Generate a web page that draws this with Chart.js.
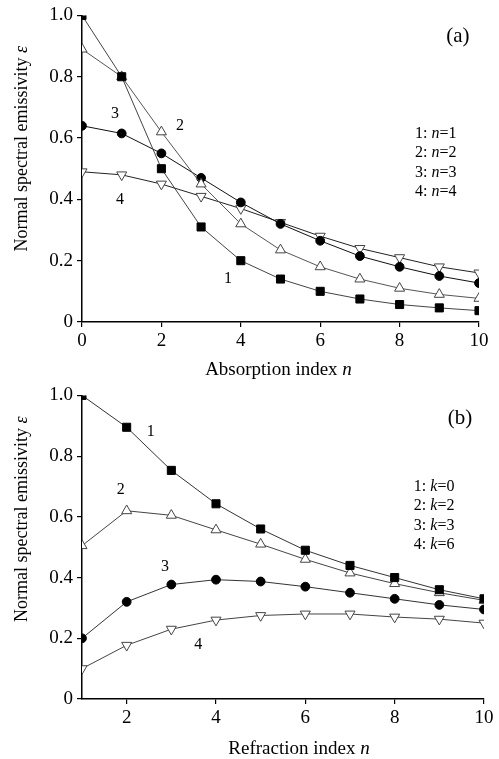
<!DOCTYPE html>
<html>
<head>
<meta charset="utf-8">
<script src="https://cdn.jsdelivr.net/npm/chart.js@4.4.0/dist/chart.umd.min.js"></script>
<style>
  html, body { margin: 0; padding: 0; background: #fff; }
  #boxA { position: absolute; left: 0; top: 0; }
  #boxB { position: absolute; left: 0; top: 380px; }
</style>
</head>
<body>
<div id="boxA"><canvas id="chartA" width="499" height="380"></canvas></div>
<div id="boxB"><canvas id="chartB" width="499" height="379"></canvas></div>
<script>
// panel (a): emissivity vs absorption index, one curve per refraction index n
const xA = [0, 1, 2, 3, 4, 5, 6, 7, 8, 9, 10];
const a_n1 = [1.0, 0.80, 0.50, 0.31, 0.20, 0.14, 0.10, 0.075, 0.057, 0.046, 0.037];
const a_n2 = [0.89, 0.80, 0.62, 0.45, 0.32, 0.235, 0.18, 0.14, 0.11, 0.09, 0.077];
const a_n3 = [0.64, 0.615, 0.55, 0.47, 0.39, 0.32, 0.265, 0.215, 0.18, 0.15, 0.127];
const a_n4 = [0.49, 0.48, 0.45, 0.41, 0.37, 0.325, 0.28, 0.24, 0.21, 0.18, 0.16];

// panel (b): emissivity vs refraction index, one curve per absorption index k
const xB = [1, 2, 3, 4, 5, 6, 7, 8, 9, 10];
const b_k0 = [1.0, 0.895, 0.753, 0.643, 0.56, 0.49, 0.44, 0.40, 0.36, 0.33];
const b_k2 = [0.505, 0.62, 0.605, 0.557, 0.51, 0.46, 0.415, 0.38, 0.35, 0.325];
const b_k3 = [0.20, 0.32, 0.377, 0.393, 0.387, 0.37, 0.35, 0.33, 0.31, 0.295];
const b_k6 = [0.10, 0.177, 0.23, 0.26, 0.275, 0.28, 0.28, 0.27, 0.263, 0.25];

const xTicksA = [0, 2, 4, 6, 8, 10];
const xTicksB = [2, 4, 6, 8, 10];
const yTicks = [0, 0.2, 0.4, 0.6, 0.8, 1.0];

const curveNames = ['1', '2', '3', '4'];
const legendValsA = [1, 2, 3, 4];
const legendValsB = [0, 2, 3, 6];

const SERIF = '"Liberation Serif", "DejaVu Serif", serif';

function pts(xs, ys) {
  return xs.map((x, i) => ({ x: x, y: ys[i] }));
}

function seriesStyle(kind, lineColor) {
  const base = {
    borderColor: lineColor,
    borderWidth: 1,
    tension: 0,
    pointBorderWidth: 1,
    pointHoverRadius: 0,
    clip: 0
  };
  if (kind === 'square') {
    return Object.assign(base, { pointStyle: 'rect', pointRadius: 5.7,
      pointBackgroundColor: '#000', pointBorderColor: '#000' });
  }
  if (kind === 'circle') {
    return Object.assign(base, { pointStyle: 'circle', pointRadius: 4.4,
      pointBackgroundColor: '#000', pointBorderColor: '#000' });
  }
  if (kind === 'up') {
    return Object.assign(base, { pointStyle: 'triangle', pointRadius: 5.8,
      pointBackgroundColor: '#fff', pointBorderColor: '#444' });
  }
  return Object.assign(base, { pointStyle: 'triangle', pointRotation: 180, pointRadius: 5.8,
    pointBackgroundColor: '#fff', pointBorderColor: '#444' });
}

// draw a line of text made of upright and italic pieces
function richText(ctx, parts, x, y, size, align) {
  let total = 0;
  parts.forEach(p => {
    ctx.font = (p.it ? 'italic ' : '') + size + 'px ' + SERIF;
    total += ctx.measureText(p.t).width;
  });
  let cx = align === 'center' ? x - total / 2 : x;
  ctx.textAlign = 'left';
  ctx.textBaseline = 'middle';
  parts.forEach(p => {
    ctx.font = (p.it ? 'italic ' : '') + size + 'px ' + SERIF;
    ctx.fillText(p.t, cx, y);
    cx += ctx.measureText(p.t).width;
  });
}

function notesPlugin(cfg) {
  return {
    id: 'notes',
    afterDraw(chart) {
      const ctx = chart.ctx;
      const xs = chart.scales.x, ys = chart.scales.y;
      const area = chart.chartArea;
      ctx.save();
      ctx.fillStyle = '#000';
      // curve numbers
      cfg.labels.forEach((l, i) => {
        richText(ctx, [{ t: curveNames[i] }], xs.getPixelForValue(l[0]), ys.getPixelForValue(l[1]), 16, 'center');
      });
      // panel tag
      richText(ctx, [{ t: cfg.tag[0] }], xs.getPixelForValue(cfg.tag[1]), ys.getPixelForValue(cfg.tag[2]), 21, 'center');
      // key
      cfg.keyVals.forEach((v, i) => {
        richText(ctx, [{ t: (i + 1) + ': ' }, { t: cfg.keyVar, it: true }, { t: '=' + v }],
          xs.getPixelForValue(cfg.keyX), ys.getPixelForValue(cfg.keyY[i]), 16, 'left');
      });
      // x title
      richText(ctx, [{ t: cfg.xTitle + ' ' }, { t: 'n', it: true }],
        (area.left + area.right) / 2 + cfg.xTitleDx, area.bottom + cfg.xTitleDy, 19, 'center');
      // y title, rotated
      ctx.translate(cfg.yTitleX, (area.top + area.bottom) / 2 + cfg.yTitleDy);
      ctx.rotate(-Math.PI / 2);
      richText(ctx, [{ t: 'Normal spectral emissivity ' }, { t: '\u03B5', it: true }], 0, 0, 18, 'center');
      ctx.restore();
    }
  };
}

function axes(xMin, xMax, xTicks, xHeight) {
  const tickFont = { family: SERIF, size: 19 };
  return {
    x: {
      type: 'linear', min: xMin, max: xMax,
      afterBuildTicks: s => { s.ticks = xTicks.map(v => ({ value: v })); },
      afterFit: s => { s.height = xHeight; },
      ticks: { color: '#000', font: tickFont, padding: 3, maxRotation: 0, autoSkip: false,
        callback: v => String(v) },
      grid: { drawOnChartArea: false, tickLength: 5, color: '#000', lineWidth: 1.2 },
      border: { color: '#000', width: 1.5 }
    },
    y: {
      min: 0, max: 1,
      afterBuildTicks: s => { s.ticks = yTicks.map(v => ({ value: v })); },
      afterFit: s => { s.width = 82; },
      ticks: { color: '#000', font: tickFont, padding: 4, autoSkip: false,
        callback: v => (v === 0 ? '0' : v.toFixed(1)) },
      grid: { drawOnChartArea: false, tickLength: 5, color: '#000', lineWidth: 1.2 },
      border: { color: '#000', width: 1.5 }
    }
  };
}

window.onload = function () {
  const ctxA = document.getElementById('chartA');
  const ctxB = document.getElementById('chartB');

  const chartA = new Chart(ctxA, {
    type: 'line',
    data: {
      datasets: [
        Object.assign({ label: 'n=1', data: pts(xA, a_n1) }, seriesStyle('square', '#444')),
        Object.assign({ label: 'n=2', data: pts(xA, a_n2) }, seriesStyle('up', '#555')),
        Object.assign({ label: 'n=3', data: pts(xA, a_n3) }, seriesStyle('circle', '#111')),
        Object.assign({ label: 'n=4', data: pts(xA, a_n4) }, seriesStyle('down', '#222'))
      ]
    },
    options: {
      responsive: false,
      animation: false,
      layout: { padding: { top: 14, right: 20, left: 0, bottom: 0 } },
      plugins: { legend: { display: false }, tooltip: { enabled: false } },
      scales: axes(0, 10, xTicksA, 58)
    },
    plugins: [notesPlugin({
      labels: [[3.68, 0.14], [2.47, 0.64], [0.83, 0.68], [0.96, 0.40]],
      tag: ['(a)', 9.47, 0.93],
      keyVar: 'n', keyVals: legendValsA, keyX: 8.39, keyY: [0.614, 0.552, 0.487, 0.425],
      xTitle: 'Absorption index', xTitleDx: -2, xTitleDy: 48,
      yTitleX: 22, yTitleDy: -20
    })]
  });

  const chartB = new Chart(ctxB, {
    type: 'line',
    data: {
      datasets: [
        Object.assign({ label: 'k=0', data: pts(xB, b_k0) }, seriesStyle('square', '#333')),
        Object.assign({ label: 'k=2', data: pts(xB, b_k2) }, seriesStyle('up', '#444')),
        Object.assign({ label: 'k=3', data: pts(xB, b_k3) }, seriesStyle('circle', '#333')),
        Object.assign({ label: 'k=6', data: pts(xB, b_k6) }, seriesStyle('down', '#444'))
      ]
    },
    options: {
      responsive: false,
      animation: false,
      layout: { padding: { top: 14, right: 15, left: 0, bottom: 0 } },
      plugins: { legend: { display: false }, tooltip: { enabled: false } },
      scales: axes(1, 10, xTicksB, 60)
    },
    plugins: [notesPlugin({
      labels: [[2.54, 0.88], [1.87, 0.69], [2.86, 0.436], [3.6, 0.177]],
      tag: ['(b)', 9.46, 0.925],
      keyVar: 'k', keyVals: legendValsB, keyX: 8.43, keyY: [0.698, 0.636, 0.57, 0.508],
      xTitle: 'Refraction index', xTitleDx: 16, xTitleDy: 50,
      yTitleX: 22, yTitleDy: -28
    })]
  });
};
</script>
</body>
</html>
